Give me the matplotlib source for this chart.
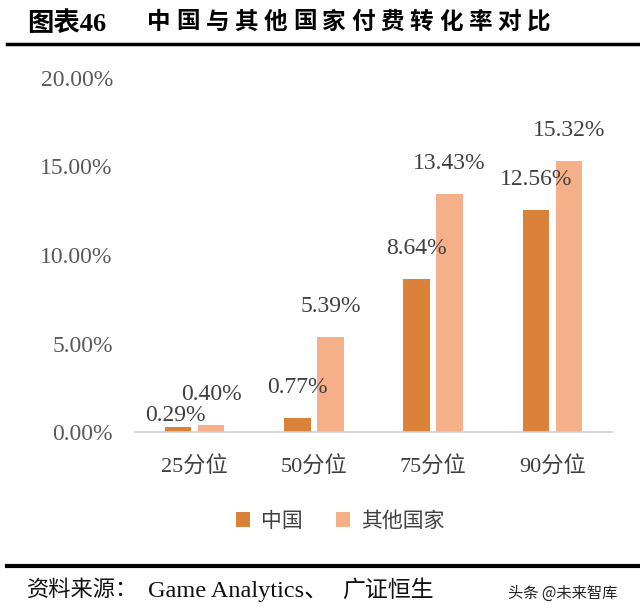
import numpy as np
import matplotlib.pyplot as plt
from matplotlib.lines import Line2D

plt.rcParams['font.family'] = ['Liberation Serif', 'Noto Sans CJK SC', 'DejaVu Sans']

categories = ['25分位', '50分位', '75分位', '90分位']
china = [0.29, 0.77, 8.64, 12.56]
others = [0.40, 5.39, 13.43, 15.32]
series_names = ['中国', '其他国家']
yticks = [0, 5, 10, 15, 20]

W, H = 640, 616
fig = plt.figure(figsize=(W / 100, H / 100), dpi=100)
ax = fig.add_axes([135 / W, 1 - 432 / H, 477 / W, 354 / H])

x = np.arange(len(categories))
bw = 0.222
off = 0.138
c_china = '#DA813A'
c_other = '#F5B08A'
b1 = ax.bar(x - off, china, bw, color=c_china, label=series_names[0])
b2 = ax.bar(x + off, others, bw, color=c_other, label=series_names[1])

ax.set_xlim(-0.5, 3.5)
ax.set_ylim(0, 20)
ax.set_yticks(yticks)
ax.set_yticklabels([f'{v:.2f}%' for v in yticks], fontsize=17, color='#595959')
ax.set_xticks(x)
ax.set_xticklabels(categories, fontsize=16, color='#404040')
ax.tick_params(axis='y', length=0, pad=16)
ax.tick_params(axis='x', length=0, pad=18)
for s in ['top', 'right', 'left']:
    ax.spines[s].set_visible(False)
ax.spines['bottom'].set_color('#D0D0D0')
ax.spines['bottom'].set_linewidth(1.2)

# data labels
for bars, vals in [(b1, china), (b2, others)]:
    for rect, v in zip(bars, vals):
        dx, dy = 0, 22
        if v == 0.29:
            dx, dy = -2, 8.5
        ax.annotate(f'{v:.2f}%', (rect.get_x() + rect.get_width() / 2, v),
                    xytext=(dx, dy), textcoords='offset points',
                    ha='center', va='center', fontsize=17, color='#404040')

# legend
fig.legend(handles=[b1, b2], labels=series_names, loc='center',
           bbox_to_anchor=(340 / W, 1 - 522 / H), ncol=2, frameon=False,
           fontsize=15, handlelength=0.7, handleheight=0.7,
           handletextpad=0.5, columnspacing=1.6, labelcolor='#404040')

# title
fig.text(27 / W, 1 - 23 / H, '图表46', fontsize=19, fontweight='bold',
         ha='left', va='center', color='black')
title = '中国与其他国家付费转化率对比'
for i, ch in enumerate(title):
    fig.text((147 + 29.2 * i) / W, 1 - 23 / H, ch, fontsize=17,
             fontweight='bold', ha='left', va='center', color='black')
fig.add_artist(Line2D([7 / W, 1], [1 - 44 / H] * 2, color='black', lw=2.5))

# footer
fig.add_artist(Line2D([7 / W, 1], [1 - 566 / H] * 2, color='black', lw=3))
fig.text(27 / W, 1 - 591 / H, '资料来源：', fontsize=16,
         ha='left', va='center', color='#111111')
fig.text(148 / W, 1 - 591 / H, 'Game Analytics、', fontsize=17.5,
         ha='left', va='center', color='#111111')
fig.text(342 / W, 1 - 591 / H, '广证恒生', fontsize=16.5,
         ha='left', va='center', color='#111111')
fig.text(508 / W, 1 - 593 / H, '头条 @未来智库', fontsize=11,
         family=['Noto Sans CJK SC', 'DejaVu Sans'],
         ha='left', va='center', color='#222222')

fig.savefig('out.png', dpi=100)
